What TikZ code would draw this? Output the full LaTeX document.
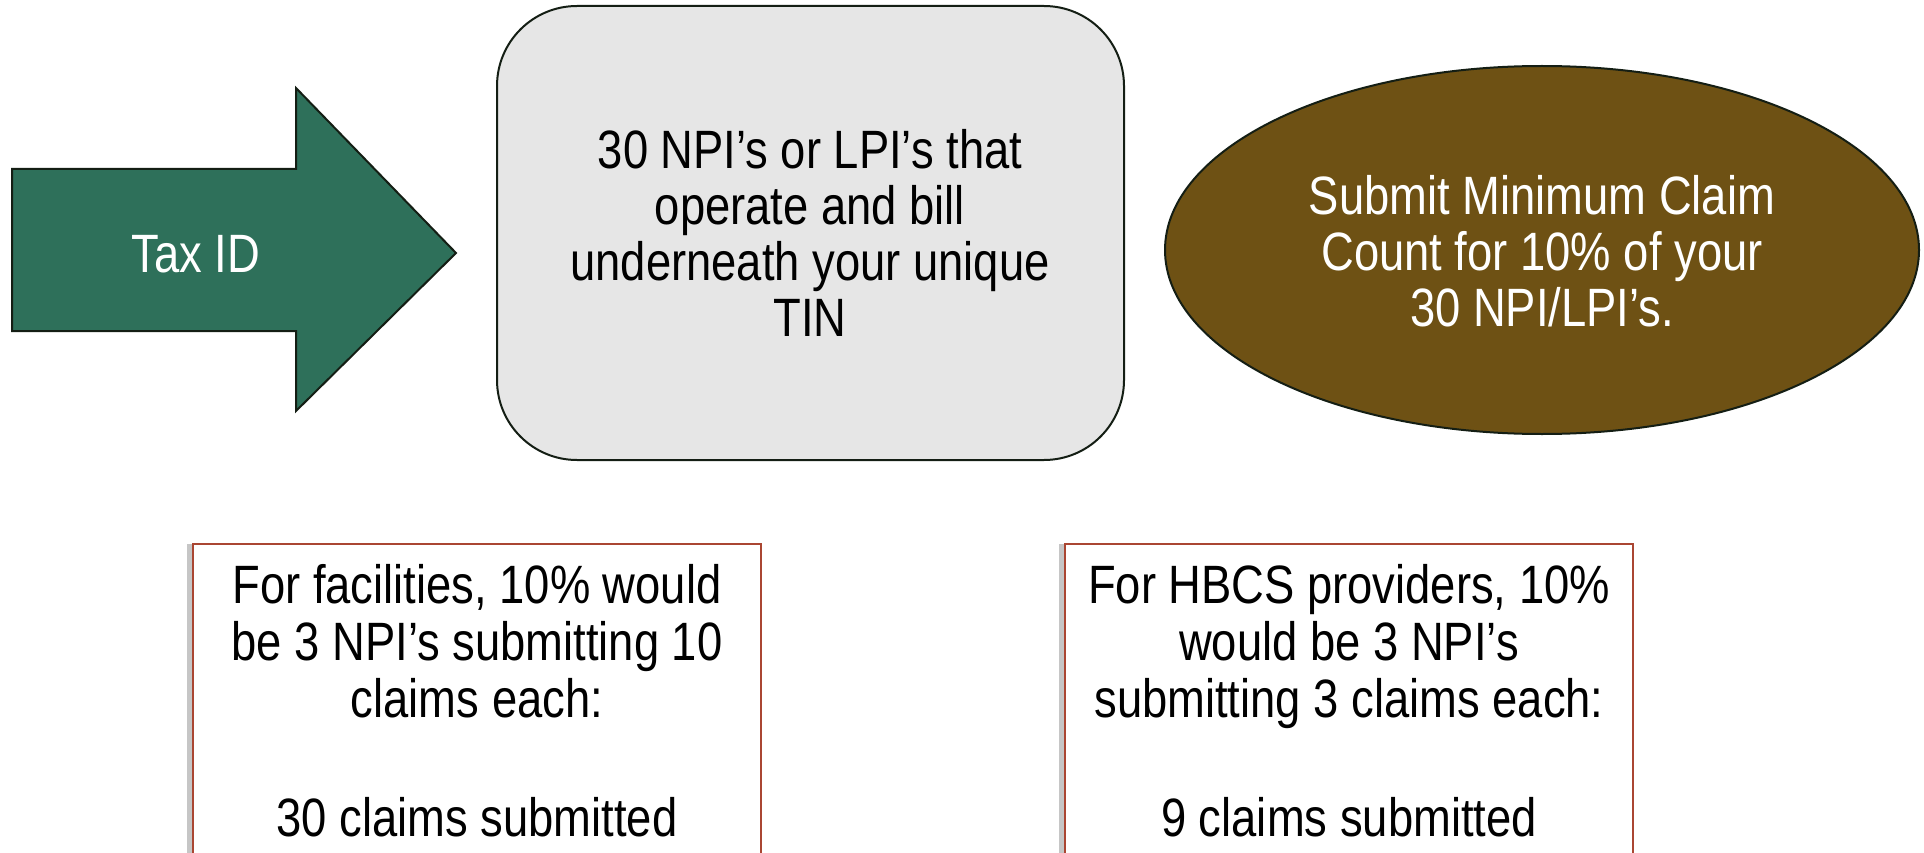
\documentclass[tikz,border=0pt]{standalone}
\usepackage{fontspec}
\setmainfont{Liberation Sans}[FakeStretch=0.84]
\usetikzlibrary{shadows}
\definecolor{arrowgreen}{RGB}{46,112,90}
\definecolor{boxgray}{RGB}{230,230,230}
\definecolor{ovalbrown}{RGB}{110,81,20}
\definecolor{redline}{RGB}{170,70,50}
\definecolor{edgedark}{RGB}{20,30,20}
\tikzset{
  txt/.style={font=\fontsize{54}{56}\selectfont, align=center},
  notetxt/.style={font=\fontsize{54}{57}\selectfont, align=center},
  greybox/.style={draw=edgedark, line width=2pt, fill=boxgray, rounded corners=80pt},
  oval/.style={draw=edgedark, line width=2pt, fill=ovalbrown},
  notebox/.style={draw=redline, line width=1.5pt, fill=white,
    drop shadow={shadow xshift=-6pt, shadow yshift=0pt, opacity=0.45, fill=gray}},
}
\begin{document}
\begin{tikzpicture}[x=1pt, y=-1pt]
\useasboundingbox (0,0) rectangle (1924,853);
% arrow
\draw[draw=edgedark, line width=2pt, fill=arrowgreen]
  (12,169) -- (296,169) -- (296,88) -- (456,253) -- (296,411) -- (296,331) -- (12,331) -- cycle;
\node[txt, text=white] (tax) at (196,254) {Tax ID};
% rounded box
\draw[greybox] (497,6) rectangle (1124,460);
\node[txt] (npi) at (810,233) {30 NPI’s or LPI’s that\\operate and bill\\underneath your unique\\TIN};
% ellipse
\draw[oval] (1542,250) ellipse [x radius=377, y radius=184];
\node[txt, text=white] (submit) at (1542,251) {Submit Minimum Claim\\Count for 10\% of your\\30 NPI/LPI’s.};
% bottom boxes
\draw[notebox] (193,544) rectangle (761,880);
\draw[notebox] (1065,544) rectangle (1633,880);
\node[notetxt, anchor=north] (fac) at (477,561) {For facilities, 10\% would\\be 3 NPI’s submitting 10\\claims each:\\[62pt]30 claims submitted};
\node[notetxt, anchor=north] (hbcs) at (1349,561) {For HBCS providers, 10\%\\would be 3 NPI’s\\submitting 3 claims each:\\[62pt]9 claims submitted};
\end{tikzpicture}
\end{document}
